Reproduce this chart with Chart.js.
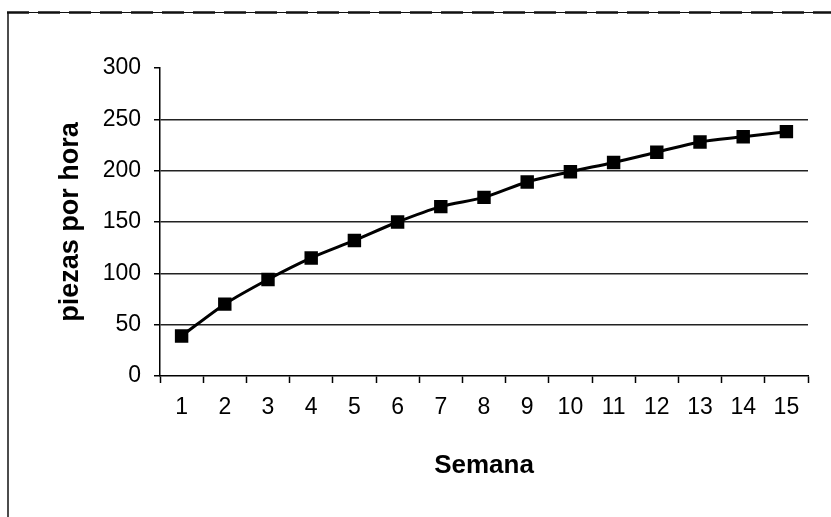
<!DOCTYPE html>
<html>
<head>
<meta charset="utf-8">
<script src="https://cdn.jsdelivr.net/npm/chart.js@4/dist/chart.umd.min.js"></script>
<style>
  html, body { margin: 0; padding: 0; background: #fff; }
  #wrap { position: relative; width: 831px; height: 517px; }
</style>
</head>
<body>
<div id="wrap"><canvas id="c" width="831" height="517"></canvas></div>
<script>
// Weekly learning curve: pieces produced per hour
const semanas = ['1','2','3','4','5','6','7','8','9','10','11','12','13','14','15'];
const piezasPorHora = [39, 70, 94, 115, 132, 150, 165, 174, 189, 199, 208, 218, 228, 233, 238];
const yTicks = [0, 50, 100, 150, 200, 250, 300];

const FONT = "'Liberation Sans', Arial, sans-serif";

// Frame lines around the figure (dashed top edge, solid left edge)
const framePlugin = {
  id: 'frame',
  beforeDraw(chart) {
    const ctx = chart.ctx;
    ctx.save();
    ctx.fillStyle = '#fff';
    ctx.fillRect(0, 0, chart.width, chart.height);
    ctx.strokeStyle = '#111';
    ctx.lineWidth = 1;
    ctx.beginPath();
    ctx.moveTo(7, 12.5); ctx.lineTo(chart.width, 12.5);
    ctx.stroke();
    ctx.lineWidth = 2.5;
    ctx.setLineDash([22, 9]);
    ctx.beginPath();
    ctx.moveTo(7, 12.5); ctx.lineTo(chart.width, 12.5);
    ctx.stroke();
    ctx.setLineDash([]);
    ctx.lineWidth = 1.5;
    ctx.beginPath();
    ctx.moveTo(8, 12); ctx.lineTo(8, chart.height);
    ctx.stroke();
    ctx.restore();
  }
};

new Chart(document.getElementById('c'), {
  type: 'line',
  data: {
    labels: semanas,
    datasets: [{
      data: piezasPorHora,
      borderColor: '#000',
      backgroundColor: '#000',
      borderWidth: 3,
      tension: 0.3,
      pointStyle: 'rect',
      pointRadius: 9.5,
      pointHoverRadius: 9.5,
      pointBorderWidth: 0,
      fill: false
    }]
  },
  options: {
    responsive: false,
    animation: false,
    events: [],
    layout: { padding: { left: 0, top: 68, right: 23, bottom: 0 } },
    plugins: { legend: { display: false }, tooltip: { enabled: false } },
    scales: {
      x: {
        type: 'category',
        offset: true,
        grid: {
          offset: true,
          drawOnChartArea: false,
          drawTicks: true,
          tickLength: 7,
          tickColor: '#000',
          tickWidth: 1.5
        },
        border: { display: true, color: '#000', width: 1.5 },
        ticks: {
          color: '#000',
          padding: 11,
          maxRotation: 0,
          autoSkip: false,
          font: { family: FONT, size: 23 }
        },
        title: {
          display: true,
          text: 'Semana',
          color: '#000',
          font: { family: FONT, size: 26, weight: 'bold' },
          padding: { top: 0, bottom: 36 }
        },
        afterFit(scale) { scale.height = 141; }
      },
      y: {
        min: 0,
        max: 300,
        afterBuildTicks(scale) { scale.ticks = yTicks.map(v => ({ value: v })); },
        grid: {
          color: ctx => (ctx.tick && (ctx.tick.value === 0 || ctx.tick.value === 300)) ? 'rgba(0,0,0,0)' : '#222',
          lineWidth: 1.5,
          drawTicks: true,
          tickLength: 6,
          tickColor: '#000',
          tickWidth: 1.5
        },
        border: { display: true, color: '#000', width: 1.5 },
        ticks: {
          color: '#000',
          padding: 13,
          font: { family: FONT, size: 23 }
        },
        title: {
          display: true,
          text: 'piezas por hora',
          color: '#000',
          font: { family: FONT, size: 27, weight: 'bold' },
          padding: { top: 54, bottom: 0 }
        },
        afterFit(scale) { scale.width = 160; }
      }
    }
  },
  plugins: [framePlugin]
});
</script>
</body>
</html>
